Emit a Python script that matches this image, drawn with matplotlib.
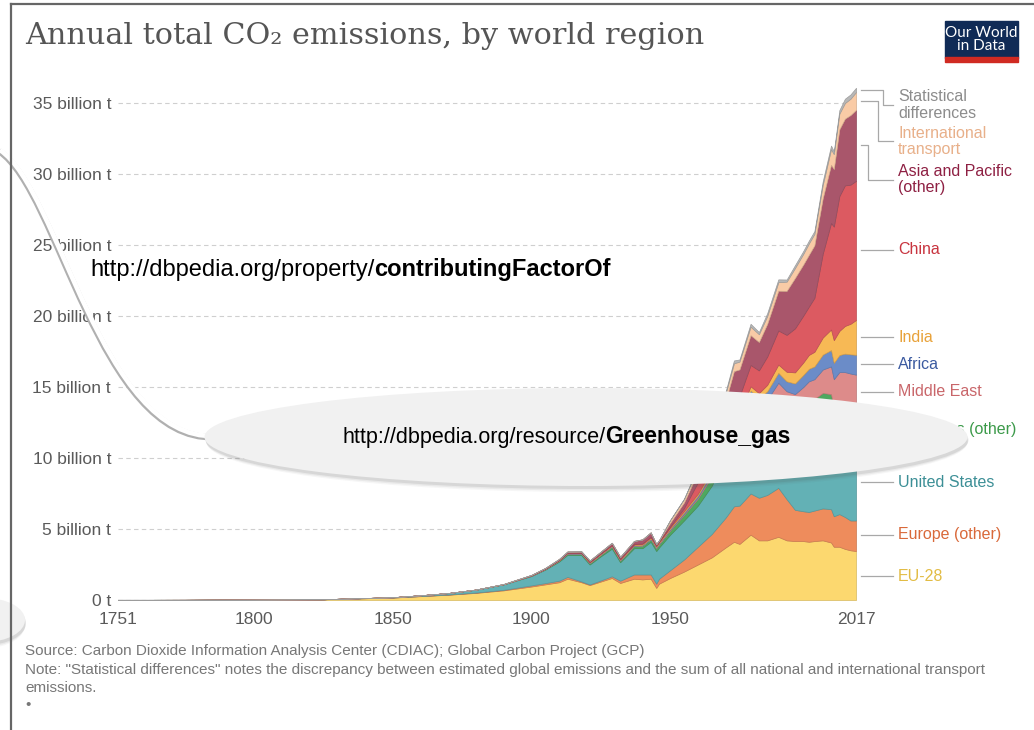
import numpy as np
import matplotlib.pyplot as plt
from matplotlib.colors import to_rgb
from matplotlib.patches import Ellipse, Rectangle, PathPatch
from matplotlib.path import Path

plt.rcParams['font.family'] = ['Liberation Sans', 'DejaVu Sans']

# CO2 emissions, billion tonnes
years = [1751, 1775, 1800, 1825, 1850, 1860, 1870, 1880, 1890, 1900,
         1905, 1910, 1913, 1918, 1921, 1925, 1929, 1932, 1937, 1940,
         1943, 1945, 1946, 1950, 1955, 1960, 1965, 1970, 1973, 1975,
         1979, 1982, 1985, 1989, 1992, 1995, 1998, 2000, 2002, 2005,
         2008, 2009, 2011, 2013, 2015, 2017]

eu28 = [0.009, 0.012, 0.025, 0.05, 0.17, 0.27, 0.37, 0.5, 0.68, 0.95,
        1.1, 1.25, 1.5, 1.25, 1.05, 1.3, 1.55, 1.2, 1.5, 1.45,
        1.5, 0.85, 1.15, 1.55, 2.0, 2.5, 3.0, 3.7, 4.1, 3.95,
        4.6, 4.2, 4.2, 4.45, 4.2, 4.15, 4.15, 4.1, 4.15, 4.2,
        4.05, 3.75, 3.75, 3.6, 3.5, 3.45]
europe_other = [0, 0, 0.001, 0.002, 0.005, 0.01, 0.015, 0.025, 0.04, 0.08,
                0.09, 0.11, 0.13, 0.06, 0.05, 0.08, 0.12, 0.16, 0.3, 0.35,
                0.3, 0.3, 0.35, 0.55, 0.85, 1.25, 1.65, 2.1, 2.5, 2.7,
                2.9, 3.0, 3.2, 3.45, 2.9, 2.2, 2.1, 2.1, 2.15, 2.25,
                2.35, 2.15, 2.3, 2.25, 2.1, 2.15]
united_states = [0, 0, 0.0003, 0.002, 0.02, 0.05, 0.1, 0.2, 0.38, 0.66,
                 0.95, 1.35, 1.55, 1.85, 1.4, 1.7, 1.95, 1.3, 1.85, 1.85,
                 2.3, 2.3, 2.2, 2.5, 2.75, 2.9, 3.4, 4.3, 4.75, 4.45,
                 4.95, 4.55, 4.7, 5.1, 5.15, 5.4, 5.7, 6.0, 5.95, 6.13,
                 5.95, 5.5, 5.55, 5.5, 5.4, 5.27]
americas_other = [0, 0, 0, 0, 0.001, 0.002, 0.004, 0.008, 0.015, 0.03,
                  0.04, 0.07, 0.09, 0.09, 0.1, 0.11, 0.15, 0.12, 0.16, 0.18,
                  0.18, 0.2, 0.22, 0.3, 0.4, 0.5, 0.65, 0.85, 1.0, 1.05,
                  1.3, 1.3, 1.3, 1.45, 1.5, 1.65, 1.8, 1.9, 1.9, 2.0,
                  2.15, 2.1, 2.25, 2.3, 2.35, 2.3]
middle_east = [0, 0, 0, 0, 0, 0, 0, 0, 0, 0,
               0.001, 0.002, 0.003, 0.004, 0.005, 0.008, 0.01, 0.01, 0.015, 0.02,
               0.02, 0.025, 0.03, 0.05, 0.07, 0.1, 0.15, 0.25, 0.35, 0.4,
               0.55, 0.6, 0.7, 0.85, 0.95, 1.1, 1.25, 1.3, 1.4, 1.65,
               1.95, 2.05, 2.2, 2.4, 2.6, 2.7]
africa = [0, 0, 0, 0, 0, 0, 0, 0, 0, 0.01,
          0.012, 0.015, 0.02, 0.02, 0.02, 0.025, 0.03, 0.03, 0.035, 0.04,
          0.045, 0.05, 0.05, 0.07, 0.1, 0.12, 0.16, 0.23, 0.3, 0.33,
          0.45, 0.55, 0.6, 0.7, 0.7, 0.75, 0.85, 0.88, 0.9, 1.05,
          1.15, 1.15, 1.2, 1.3, 1.35, 1.4]
india = [0, 0, 0, 0, 0, 0, 0.001, 0.002, 0.004, 0.01,
         0.015, 0.02, 0.03, 0.035, 0.035, 0.04, 0.045, 0.045, 0.05, 0.06,
         0.065, 0.07, 0.07, 0.08, 0.1, 0.12, 0.17, 0.2, 0.22, 0.26,
         0.3, 0.37, 0.45, 0.58, 0.67, 0.78, 0.88, 0.98, 1.03, 1.2,
         1.45, 1.6, 1.7, 1.95, 2.15, 2.45]
china = [0, 0, 0, 0, 0, 0, 0, 0, 0, 0.001,
         0.002, 0.005, 0.01, 0.015, 0.02, 0.02, 0.025, 0.025, 0.03, 0.04,
         0.05, 0.03, 0.04, 0.08, 0.2, 0.8, 0.5, 0.8, 1.0, 1.2,
         1.5, 1.6, 2.0, 2.4, 2.6, 3.1, 3.3, 3.4, 3.8, 5.9,
         7.5, 8.0, 9.5, 9.9, 9.8, 9.8]
asia_other = [0, 0, 0, 0, 0, 0, 0, 0.002, 0.01, 0.03,
              0.05, 0.07, 0.08, 0.1, 0.1, 0.12, 0.15, 0.15, 0.22, 0.28,
              0.3, 0.12, 0.1, 0.25, 0.4, 0.7, 1.1, 1.6, 1.9, 1.9,
              2.1, 2.0, 2.3, 2.8, 3.1, 3.55, 3.6, 3.65, 3.7, 3.9,
              4.1, 4.05, 4.7, 4.7, 4.9, 5.0]
intl_transport = [0, 0, 0, 0, 0, 0, 0, 0, 0, 0,
                  0, 0, 0, 0, 0, 0, 0, 0, 0, 0,
                  0, 0, 0, 0.2, 0.25, 0.3, 0.35, 0.5, 0.55, 0.55,
                  0.6, 0.55, 0.55, 0.6, 0.65, 0.7, 0.75, 0.8, 0.8, 0.95,
                  1.1, 1.05, 1.1, 1.1, 1.15, 1.25]
stat_diff = [0, 0, 0, 0, 0, 0, 0, 0, 0, 0,
             0, 0, 0, 0, 0, 0, 0, 0, 0, 0,
             0, 0, 0, 0, 0, 0.1, 0.1, 0.15, 0.2, 0.15,
             0.2, 0.15, 0.2, 0.2, 0.15, 0.2, 0.2, 0.2, 0.2, 0.25,
             0.25, 0.2, 0.25, 0.3, 0.3, 0.3]

series = [eu28, europe_other, united_states, americas_other, middle_east,
          africa, india, china, asia_other, intl_transport, stat_diff]
names = ["EU-28", "Europe (other)", "United States", "Americas (other)",
         "Middle East", "Africa", "India", "China",
         "Asia and Pacific\n(other)", "International\ntransport",
         "Statistical\ndifferences"]
fill_colors = ['#fcd86f', '#ee8c5c', '#63b1b5', '#4fa860', '#dd8b8a',
               '#6b8cc8', '#f7b955', '#dc5a61', '#a9566b', '#f9cba6', '#b8b8b8']
text_colors = ['#e2bc45', '#d9693a', '#3c8f96', '#3c9a4a', '#c9666a',
               '#3b5aa0', '#e8a23a', '#c8343f', '#8e2043', '#e8b08a', '#8c8c8c']
# label anchor heights (billion t) and bend position of the leader line
label_y = [1.69, 4.58, 8.3, 12.04, 14.65, 16.6, 18.5, 24.65, 29.6, 32.3, 34.86]
bend_x = [2026, 2026, 2026, 2026, 2026, 2026, 2026, 2026, 2021.4, 2025.0, 2026.8]

W, H = 1034, 730
fig = plt.figure(figsize=(W / 100, H / 100), dpi=100)
ax = fig.add_axes([118 / W, 1 - 600 / H, (856 - 118) / W, 37 * 14.2 / H])

polys = ax.stackplot(years, *series, colors=fill_colors, zorder=2)
for p, c in zip(polys, fill_colors):
    p.set_edgecolor(tuple(v * 0.85 for v in to_rgb(c)))
    p.set_linewidth(0.5)

ax.set_xlim(1751, 2017)
ax.set_ylim(0, 37)
ax.set_yticks(range(0, 36, 5))
ax.set_yticklabels(['0 t'] + ['%d billion t' % v for v in range(5, 36, 5)])
ax.set_xticks([1751, 1800, 1850, 1900, 1950, 2017])
ax.tick_params(axis='y', length=0, pad=5, labelsize=12.5, labelcolor='#5a5a5a')
ax.tick_params(axis='x', length=0, pad=9, labelsize=12.5, labelcolor='#5a5a5a')
ax.yaxis.grid(True, linestyle=(0, (4, 3)), color='#cfcfcf', lw=0.8, zorder=0)
ax.set_axisbelow(True)
for s in ax.spines.values():
    s.set_visible(False)
ax.axhline(0, color='#a0a0a0', lw=1, zorder=1)

# right-hand labels with leader lines
last = np.cumsum([s[-1] for s in series])
prev = np.concatenate([[0], last[:-1]])
for i, name in enumerate(names):
    mid = (prev[i] + last[i]) / 2
    ly = label_y[i]
    if abs(mid - ly) < 0.8:
        ax.plot([2018.8, 2030.4], [ly, ly], color='#a8a8a8', lw=0.9, clip_on=False)
    else:
        ax.plot([2018.8, bend_x[i], bend_x[i], 2030.4], [mid, mid, ly, ly],
                color='#a8a8a8', lw=0.9, clip_on=False)
    ax.text(2032.2, ly, name, color=text_colors[i], fontsize=11.5,
            va='center', ha='left', linespacing=1.1, clip_on=False)

# title, source, notes
fig.text(25 / W, 1 - 36 / H, 'Annual total CO₂ emissions, by world region',
         fontsize=21.8, family='DejaVu Serif', color='#555555', va='center')
foot = dict(fontsize=11, color='#777777', va='center')
fig.text(25 / W, 1 - 651 / H,
         'Source: Carbon Dioxide Information Analysis Center (CDIAC); Global Carbon Project (GCP)', **foot)
fig.text(25 / W, 1 - 670 / H,
         'Note: "Statistical differences" notes the discrepancy between estimated global emissions '
         'and the sum of all national and international transport', **foot)
fig.text(25 / W, 1 - 688 / H, 'emissions.', **foot)
fig.text(25 / W, 1 - 705 / H, '•', **foot)

# overlay in pixel coordinates: frame, logo, bubbles
ov = fig.add_axes([0, 0, 1, 1], zorder=10)
ov.set_xlim(0, W)
ov.set_ylim(H, 0)
ov.axis('off')
ov.patch.set_alpha(0)

ov.plot([11, 11], [4, H], color='#666666', lw=1.6)
ov.plot([11, W], [4, 4], color='#666666', lw=1.6)

ov.add_patch(Rectangle((945, 21), 73, 37, color='#102b56'))
ov.add_patch(Rectangle((945, 57), 73, 5, color='#d02a22'))
ov.text(981.5, 39.5, 'Our World\nin Data', color='white', fontsize=11,
        family='Lato', ha='center', va='center', linespacing=0.92)

# connector curve: white band with a grey edge
verts = [(0, 150), (60, 190), (100, 440), (215, 436)]
codes = [Path.MOVETO, Path.CURVE4, Path.CURVE4, Path.CURVE4]
ov.add_patch(PathPatch(Path([(x - 0.8, y + 1.2) for x, y in verts], codes),
                       fill=False, ec='#b0b0b0', lw=4.6))
ov.add_patch(PathPatch(Path(verts, codes), fill=False, ec='white', lw=3.4))

# bubbles with soft shadow underneath
for cx, cy, w, h in [(586, 437, 763, 98), (-15, 620, 80, 44)]:
    for k, a in enumerate([0.05, 0.08, 0.12]):
        ov.add_patch(Ellipse((cx + 1, cy + 5 - k), w - 2 + k, h + 2 - k,
                             color='#555555', alpha=a, lw=0))
    ov.add_patch(Ellipse((cx, cy), w, h, color='#f1f1f1', lw=0))

t1 = ov.text(342, 438, 'http://dbpedia.org/resource/', fontsize=15.5,
             color='black', va='center', ha='left')
ov.annotate('Greenhouse_gas', xy=(1, 0), xycoords=t1, va='bottom', ha='left',
            fontsize=16.5, fontweight='bold', color='black')
t2 = ov.text(90, 270, 'http://dbpedia.org/property/', fontsize=17,
             color='black', va='center', ha='left')
ov.annotate('contributingFactorOf', xy=(1, 0), xycoords=t2, va='bottom', ha='left',
            fontsize=17, fontweight='bold', color='black')

fig.savefig('out.png', dpi=100)
